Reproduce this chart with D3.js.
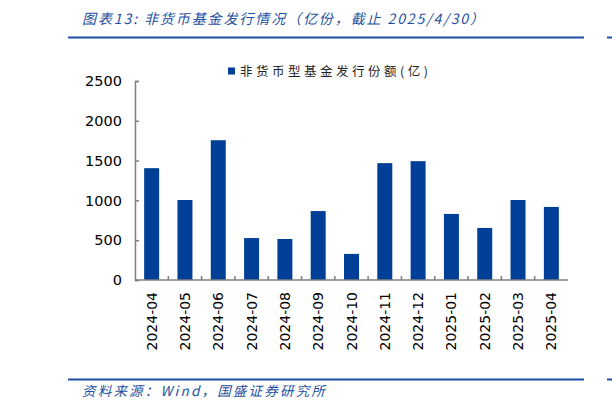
<!DOCTYPE html>
<html>
<head>
<meta charset="utf-8">
<script src="https://cdn.jsdelivr.net/npm/d3@7"></script>
<style>
  body { margin: 0; background: #fff; }
  svg { display: block; }
</style>
</head>
<body>
<svg id="chart" width="612" height="411"></svg>
<script>
// Data
const months = ["2024-04", "2024-05", "2024-06", "2024-07", "2024-08", "2024-09",
  "2024-10", "2024-11", "2024-12", "2025-01", "2025-02", "2025-03", "2025-04"];
const issuance = [1405, 1005, 1756, 527, 515, 866, 328, 1468, 1493, 830, 654, 1005, 918];
const yTicks = [0, 500, 1000, 1500, 2000, 2500];

const titleText = "图表13:  非货币基金发行情况（亿份，截止 2025/4/30）";
const legendText = "非货币型基金发行份额(亿)";
const sourceText = "资料来源：Wind，国盛证券研究所";

const blue = "#003f98";
const lineBlue = "#1d4fa0";
const axisGrey = "#7f7f7f";

let svg = d3.select("#chart");

// Plot area
let margin = {left: 135, right: 568, top: 81, bottom: 280};

let x = d3.scaleBand()
  .domain(months)
  .range([margin.left, margin.right])
  .paddingInner(0.55)
  .paddingOuter(0.275);

let y = d3.scaleLinear()
  .domain([0, 2500])
  .range([margin.bottom, margin.top]);

// Title and header rule
svg.append("text")
  .attr("x", 82)
  .attr("y", 24)
  .attr("fill", lineBlue)
  .attr("font-family", "Noto Sans CJK SC")
  .attr("font-style", "italic")
  .attr("font-size", "14px")
  .attr("letter-spacing", "1.9px")
  .text(titleText);

svg.append("line")
  .attr("x1", 68).attr("x2", 584)
  .attr("y1", 37.5).attr("y2", 37.5)
  .attr("stroke", lineBlue).attr("stroke-width", 2);
svg.append("line")
  .attr("x1", 607).attr("x2", 612)
  .attr("y1", 37.5).attr("y2", 37.5)
  .attr("stroke", lineBlue).attr("stroke-width", 2);

// Bars
svg.append("g")
  .selectAll("rect")
  .data(issuance)
  .join("rect")
    .attr("x", (d, i) => x(months[i]))
    .attr("width", x.bandwidth())
    .attr("y", d => y(d))
    .attr("height", d => y(0) - y(d))
    .attr("fill", blue);

// Y axis (ticks point inward)
let yAxis = svg.append("g")
  .attr("transform", `translate(${margin.left},0)`)
  .call(d3.axisRight(y).tickValues(yTicks).tickSize(4).tickFormat(d3.format("d")));
yAxis.select(".domain").attr("stroke", axisGrey).attr("stroke-width", 1.5);
yAxis.selectAll(".tick line").attr("stroke", axisGrey).attr("stroke-width", 1.5);
yAxis.selectAll(".tick text")
  .attr("x", -13)
  .attr("text-anchor", "end")
  .attr("fill", "#000")
  .attr("font-family", "DejaVu Sans")
  .attr("font-size", "14.5px");

// X axis: ticks between categories, pointing up
let step = x.step();
let boundaries = months.slice(1).map(m => x(m) - x.paddingInner() * step / 2);
let xg = svg.append("g");
xg.append("line")
  .attr("x1", margin.left).attr("x2", margin.right)
  .attr("y1", y(0)).attr("y2", y(0))
  .attr("stroke", axisGrey).attr("stroke-width", 1.5);
xg.selectAll(".xtick")
  .data(boundaries)
  .join("line")
    .attr("class", "xtick")
    .attr("x1", d => d).attr("x2", d => d)
    .attr("y1", y(0)).attr("y2", y(0) - 4)
    .attr("stroke", axisGrey).attr("stroke-width", 1.5);
xg.selectAll(".xlabel")
  .data(months)
  .join("text")
    .attr("class", "xlabel")
    .attr("transform", d => `translate(${x(d) + x.bandwidth() / 2 + 5},292) rotate(-90)`)
    .attr("text-anchor", "end")
    .attr("font-family", "DejaVu Sans")
    .attr("font-size", "14px")
    .attr("fill", "#000")
    .text(d => d);

// Legend
svg.append("rect")
  .attr("x", 228).attr("y", 67.5)
  .attr("width", 7).attr("height", 7)
  .attr("fill", blue);
svg.append("text")
  .attr("x", 240)
  .attr("y", 76)
  .attr("font-family", "Noto Sans CJK SC")
  .attr("font-size", "12.5px")
  .attr("letter-spacing", "3.5px")
  .attr("fill", "#222")
  .text(legendText);

// Footer rule and source
svg.append("line")
  .attr("x1", 68).attr("x2", 584)
  .attr("y1", 379.5).attr("y2", 379.5)
  .attr("stroke", lineBlue).attr("stroke-width", 2);
svg.append("line")
  .attr("x1", 607).attr("x2", 612)
  .attr("y1", 379.5).attr("y2", 379.5)
  .attr("stroke", lineBlue).attr("stroke-width", 2);
svg.append("text")
  .attr("x", 82)
  .attr("y", 396)
  .attr("fill", lineBlue)
  .attr("font-family", "Noto Sans CJK SC")
  .attr("font-style", "italic")
  .attr("font-size", "13.5px")
  .attr("letter-spacing", "2.2px")
  .text(sourceText);
</script>
</body>
</html>
